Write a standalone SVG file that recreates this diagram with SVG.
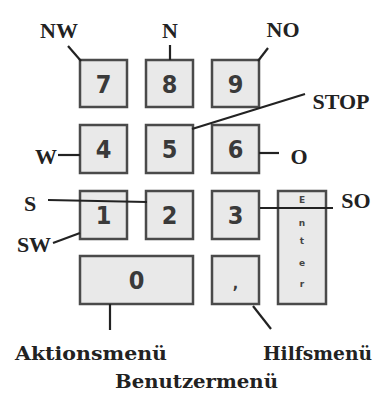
<svg xmlns="http://www.w3.org/2000/svg" width="374" height="394" viewBox="0 0 374 394">
<style>
.key{fill:#e9e9e9;stroke:#4a4a4a;stroke-width:2.5}
.d{font-family:"DejaVu Sans Condensed","DejaVu Sans",sans-serif;font-weight:bold;font-size:25px;fill:#3a3a3a;text-anchor:middle}
.l{font-family:"Liberation Serif",serif;font-weight:bold;font-size:22px;fill:#222;text-anchor:middle}
.m{font-family:"DejaVu Serif",serif;font-weight:bold;font-size:18px;fill:#222}
.e{font-family:"DejaVu Sans",sans-serif;font-weight:bold;font-size:9px;fill:#444;text-anchor:middle}
.c{stroke:#222;stroke-width:2.2;fill:none}
</style>
<rect width="374" height="394" fill="#fff"/>
<g id="k7"><rect class="key" x="80" y="60" width="47" height="47"/><text class="d" x="103.5" y="93">7</text></g>
<g id="k8"><rect class="key" x="146" y="60" width="47" height="47"/><text class="d" x="169.5" y="93">8</text></g>
<g id="k9"><rect class="key" x="212" y="60" width="47" height="47"/><text class="d" x="235.5" y="93">9</text></g>
<g id="k4"><rect class="key" x="80" y="125" width="47" height="48"/><text class="d" x="103.5" y="158">4</text></g>
<g id="k5"><rect class="key" x="146" y="125" width="47" height="48"/><text class="d" x="169.5" y="158">5</text></g>
<g id="k6"><rect class="key" x="212" y="125" width="47" height="48"/><text class="d" x="235.5" y="158">6</text></g>
<g id="k1"><rect class="key" x="80" y="191" width="47" height="48"/><text class="d" x="103.5" y="224">1</text></g>
<g id="k2"><rect class="key" x="146" y="191" width="47" height="48"/><text class="d" x="169.5" y="224">2</text></g>
<g id="k3"><rect class="key" x="212" y="191" width="47" height="48"/><text class="d" x="235.5" y="224">3</text></g>
<g id="kenter"><rect class="key" x="278" y="191" width="48" height="113"/>
<text class="e" x="302" y="203">E</text><text class="e" x="302" y="226">n</text><text class="e" x="302" y="244">t</text><text class="e" x="302" y="266">e</text><text class="e" x="302" y="287">r</text></g>
<g id="k0"><rect class="key" x="80" y="256" width="113" height="48"/><text class="d" x="136.5" y="289">0</text></g>
<g id="kcomma"><rect class="key" x="212" y="256" width="47" height="48"/><text class="d" x="235.5" y="289" style="font-size:16px">,</text></g>
<g id="connectors">
<line class="c" x1="68" y1="46" x2="81" y2="61"/>
<line class="c" x1="170" y1="45" x2="170" y2="60"/>
<line class="c" x1="268" y1="48" x2="258" y2="61"/>
<line class="c" x1="305" y1="94" x2="192" y2="129"/>
<line class="c" x1="58" y1="155" x2="80" y2="155"/>
<line class="c" x1="259" y1="153" x2="279" y2="153"/>
<line class="c" x1="48" y1="200" x2="147" y2="202"/>
<line class="c" x1="260" y1="208" x2="333" y2="208"/>
<line class="c" x1="53" y1="243" x2="80" y2="233"/>
<line class="c" x1="110" y1="304" x2="110" y2="330"/>
<line class="c" x1="253" y1="306" x2="271" y2="329"/>
</g>
<g id="labels">
<text class="l" x="59" y="38">NW</text>
<text class="l" x="170" y="38">N</text>
<text class="l" x="283" y="37">NO</text>
<text class="l" x="341" y="109">STOP</text>
<text class="l" x="46" y="164">W</text>
<text class="l" x="299" y="164">O</text>
<text class="l" x="30" y="211">S</text>
<text class="l" x="356" y="208">SO</text>
<text class="l" x="34" y="252">SW</text>
<text class="m" x="15" y="360" textLength="152" lengthAdjust="spacingAndGlyphs">Aktionsmenü</text>
<text class="m" x="263" y="360" textLength="109" lengthAdjust="spacingAndGlyphs">Hilfsmenü</text>
<text class="m" x="115" y="388" textLength="163" lengthAdjust="spacingAndGlyphs">Benutzermenü</text>
</g>
</svg>
